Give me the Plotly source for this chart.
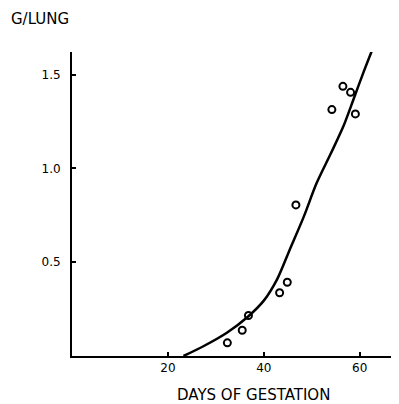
import plotly.graph_objects as go

# Observed data points (days of gestation, g per lung)
days_obs = [32.4, 35.5, 36.8, 43.3, 44.9, 46.7, 54.2, 56.5, 58.1, 59.1]
weight_obs = [0.07, 0.137, 0.216, 0.337, 0.393, 0.805, 1.313, 1.437, 1.405, 1.29]

# Fitted growth curve
days_fit = [23.25, 27.4, 32.3, 36.8, 40.0, 42.8, 45.3, 48.3, 51.0, 54.0, 56.6, 58.7, 60.75, 63.2]
weight_fit = [0.0, 0.052, 0.124, 0.212, 0.295, 0.41, 0.56, 0.74, 0.92, 1.08, 1.224, 1.367, 1.509, 1.669]

x_ticks = [20, 40, 60]
y_ticks = [0.5, 1.0, 1.5]
y_ticktext = ["0.5", "1.0", "1.5"]

FONT = "DejaVu Sans"

fig = go.Figure()
fig.add_trace(go.Scatter(
    x=days_fit, y=weight_fit, mode="lines",
    line=dict(color="black", width=2.5, shape="spline", smoothing=0.8),
    showlegend=False, hoverinfo="skip",
))
fig.add_trace(go.Scatter(
    x=days_obs, y=weight_obs, mode="markers",
    marker=dict(symbol="circle-open", size=7, color="black", line=dict(width=2, color="black")),
    showlegend=False,
))

fig.update_layout(
    width=391, height=396,
    margin=dict(l=64, r=0, t=44, b=48, autoexpand=False),
    paper_bgcolor="white", plot_bgcolor="white",
    font=dict(family=FONT, size=12, color="black"),
    xaxis=dict(
        range=[0, 68.2], showgrid=False, zeroline=False,
        showline=True, linecolor="black", linewidth=2,
        tickvals=x_ticks, ticks="inside", ticklen=4, tickwidth=2, tickcolor="black",
        tickfont=dict(family=FONT, size=12),
    ),
    yaxis=dict(
        range=[0, 1.62], showgrid=False, zeroline=False,
        showline=True, linecolor="black", linewidth=2,
        tickvals=y_ticks, ticktext=y_ticktext,
        ticks="inside", ticklen=4, tickwidth=2, tickcolor="black",
        tickfont=dict(family=FONT, size=12), ticklabelstandoff=7,
    ),
    annotations=[
        dict(text="G/LUNG", xref="paper", yref="paper", x=-0.193, y=1.1447,
             xanchor="left", yanchor="top", showarrow=False,
             font=dict(family=FONT, size=15, color="black")),
        dict(text="DAYS OF GESTATION", xref="paper", yref="paper", x=0.554, y=-0.128,
             xanchor="center", yanchor="middle", showarrow=False,
             font=dict(family=FONT, size=15, color="black")),
    ],
)

fig.write_html("out.html")
